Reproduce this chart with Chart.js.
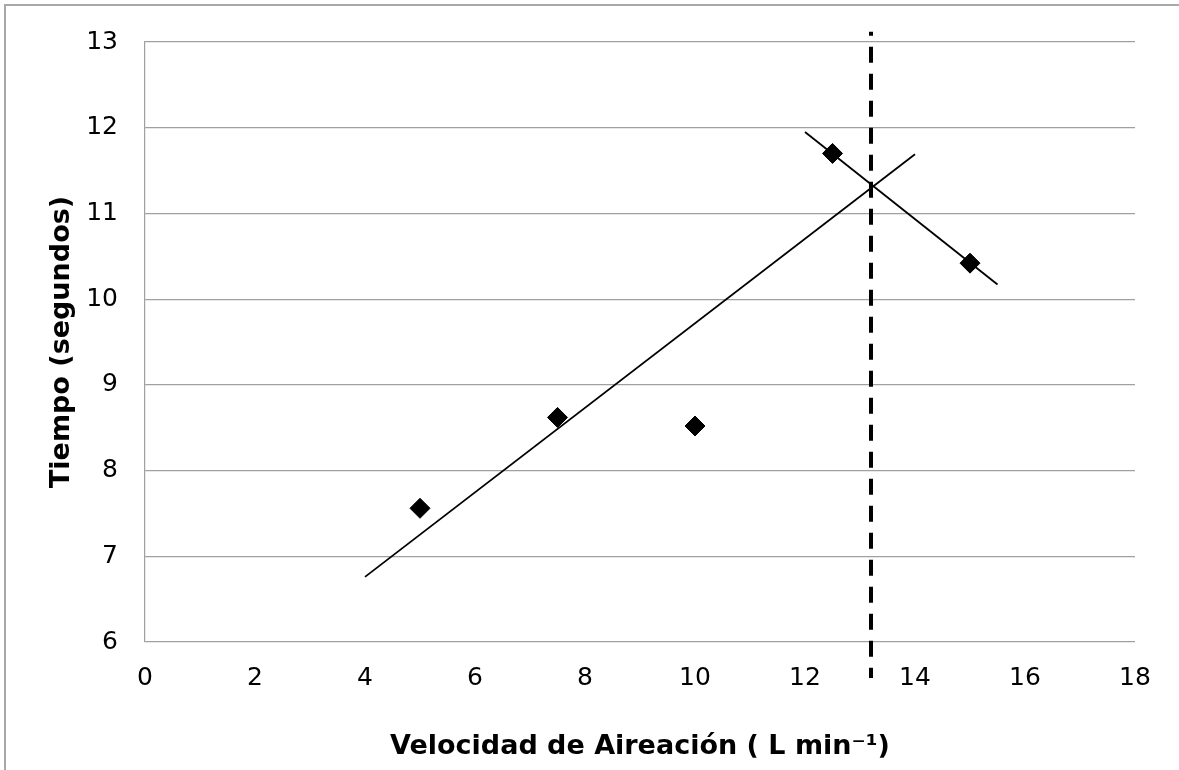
<!DOCTYPE html>
<html>
<head>
<meta charset="utf-8">
<script src="https://cdn.jsdelivr.net/npm/chart.js@4/dist/chart.umd.min.js"></script>
<style>
  html, body { margin: 0; padding: 0; background: #fff; overflow: hidden; }
  #wrap { position: relative; width: 1179px; height: 770px; overflow: hidden; }
  #frame {
    position: absolute; left: 4px; top: 4px; width: 1300px; height: 900px;
    border-left: 2px solid #a8a8a8; border-top: 2px solid #a8a8a8;
    pointer-events: none;
  }
</style>
</head>
<body>
<div id="wrap">
  <canvas id="chart" width="1179" height="770"></canvas>
  <div id="frame"></div>
</div>
<script>
// Measured points (aeration rate vs time)
const aeration = [5, 7.5, 10, 12.5, 15];
const timeSec = [7.56, 8.62, 8.52, 11.70, 10.42];

// Trend line ends
const riseX = [4, 14];
const riseY = [6.76, 11.69];
const fallX = [12, 15.5];
const fallY = [11.95, 10.17];

// Vertical dashed marker
const markerX = 13.2;
const markerY = [13.12, 5.58];

const xTicks = [0, 2, 4, 6, 8, 10, 12, 14, 16, 18];
const yTicks = [6, 7, 8, 9, 10, 11, 12, 13];

const toPoints = (xs, ys) => xs.map((x, i) => ({ x: x, y: ys[i] }));

Chart.defaults.font.family = '"DejaVu Sans", Verdana, sans-serif';
Chart.defaults.color = '#000';

const ctx = document.getElementById('chart').getContext('2d');
new Chart(ctx, {
  type: 'scatter',
  data: {
    datasets: [
      {
        label: 'Tiempo',
        data: toPoints(aeration, timeSec),
        pointStyle: 'rectRot',
        pointRadius: 10,
        pointBackgroundColor: '#000',
        pointBorderColor: '#000',
        pointBorderWidth: 1,
        showLine: false
      },
      {
        label: 'Tendencia 1',
        data: toPoints(riseX, riseY),
        showLine: true,
        borderColor: '#000',
        borderWidth: 1.8,
        pointRadius: 0
      },
      {
        label: 'Tendencia 2',
        data: toPoints(fallX, fallY),
        showLine: true,
        borderColor: '#000',
        borderWidth: 1.8,
        pointRadius: 0
      },
      {
        label: 'Marca',
        data: markerY.map(y => ({ x: markerX, y: y })),
        showLine: true,
        borderColor: '#000',
        borderWidth: 4,
        borderDash: [16, 11],
        borderDashOffset: 12,
        borderCapStyle: 'butt',
        pointRadius: 0,
        clip: false
      }
    ]
  },
  options: {
    responsive: false,
    animation: false,
    events: [],
    layout: { padding: { left: 46, top: 40, right: 44, bottom: 7 } },
    plugins: {
      legend: { display: false },
      tooltip: { enabled: false }
    },
    scales: {
      x: {
        type: 'linear',
        min: 0,
        max: 18,
        afterBuildTicks: axis => { axis.ticks = xTicks.map(v => ({ value: v })); },
        afterFit: axis => { axis.height = 121; },
        grid: { display: false, drawTicks: false },
        border: { display: false },
        ticks: { padding: 21, font: { size: 25 }, color: '#000' },
        title: {
          display: true,
          text: 'Velocidad de Aireación ( L min⁻¹)',
          font: { size: 27, weight: 'bold' },
          color: '#000',
          padding: 0
        }
      },
      y: {
        type: 'linear',
        min: 6,
        max: 13,
        afterBuildTicks: axis => { axis.ticks = yTicks.map(v => ({ value: v })); },
        afterFit: axis => { axis.width = 99; },
        grid: { color: '#a0a0a0', lineWidth: 1.2, drawTicks: false },
        border: { display: true, color: '#a0a0a0', width: 1.2 },
        ticks: { padding: 27, font: { size: 25 }, color: '#000' },
        title: {
          display: true,
          text: 'Tiempo (segundos)',
          font: { size: 27, weight: 'bold' },
          color: '#000',
          padding: 0
        }
      }
    }
  }
});
</script>
</body>
</html>
